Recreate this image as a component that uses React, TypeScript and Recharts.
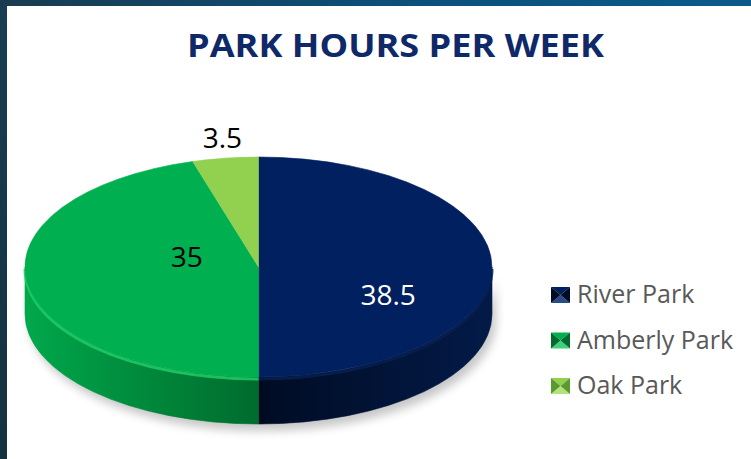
import React from 'react';
import { PieChart, Pie, Cell, Legend } from 'recharts';

// ---- data ----
const parks = ['River Park', 'Amberly Park', 'Oak Park'];
const hours = [38.5, 35, 3.5];
const chartTitle = 'PARK HOURS PER WEEK';

// ---- styles ----
const topColors = ['#002060', '#00b050', '#92d050'];
const sideLight = ['#031a48', '#00a84b', '#7fc045'];
const sideDark = ['#000c24', '#006b2d', '#5c9a30'];
const rimColors = ['#08204f', '#1fcd66', '#a8de72'];
const markerLight = ['#2a4a8a', '#3fd07a', '#b4e27e'];
const labelColors = ['#ffffff', '#000000', '#000000'];

const data = parks.map((name, i) => ({ name, value: hours[i] }));

const W = 751;
const H = 459;
const PIE_CX = 258.5;
const PIE_CY = 267;
const RADIUS = 233.5;
const TILT = 110 / 233.5;
const DEPTH = 47;
const LABEL_RADIUS = [0.555, 0.31, 1];
const LABEL_DY = [28, -14.5, 0];
const LABEL_FONT = 28;

const rad = (a: number) => (a * Math.PI) / 180;
const pt = (cx: number, cy: number, rx: number, ry: number, a: number, dy = 0) =>
  [cx + rx * Math.cos(rad(a)), cy - ry * Math.sin(rad(a)) + dy];

const idxOf = (p: any) => {
  const n = p?.name ?? p?.payload?.name ?? p?.value;
  const i = parks.indexOf(n);
  return i < 0 ? (p?.index ?? 0) : i;
};

const TopFace = (props: any) => {
  const { cx, cy, outerRadius, startAngle, endAngle } = props;
  const i = idxOf(props);
  const rx = outerRadius;
  const ry = outerRadius * TILT;
  const [x1, y1] = pt(cx, cy, rx, ry, startAngle);
  const [x2, y2] = pt(cx, cy, rx, ry, endAngle);
  const large = Math.abs(startAngle - endAngle) > 180 ? 1 : 0;
  const sweep = startAngle > endAngle ? 1 : 0;
  const d = `M${cx},${cy} L${x1},${y1} A${rx},${ry} 0 ${large} ${sweep} ${x2},${y2} Z`;
  return <path d={d} fill={topColors[i]} stroke={topColors[i]} strokeWidth={0.6} />;
};

const frontRanges = (lo: number, hi: number) => {
  const out: [number, number][] = [];
  const fronts: [number, number][] = [[-540, -360], [-180, 0], [180, 360]];
  fronts.forEach(([a, b]) => {
    const s = Math.max(lo, a);
    const e = Math.min(hi, b);
    if (e - s > 0.01) out.push([s, e]);
  });
  return out;
};

const SideWall = (props: any) => {
  const { cx, cy, outerRadius, startAngle, endAngle } = props;
  const i = idxOf(props);
  const rx = outerRadius;
  const ry = outerRadius * TILT;
  const lo = Math.min(startAngle, endAngle);
  const hi = Math.max(startAngle, endAngle);
  const ranges = frontRanges(lo, hi);
  if (!ranges.length) return <g />;
  const gid = `side-grad-${i}`;
  const fid = `side-shadow-${i}`;
  return (
    <g>
      <defs>
        <linearGradient id={gid} gradientUnits="userSpaceOnUse" x1={cx - rx} y1={0} x2={cx + rx} y2={0}>
          <stop offset="0%" stopColor={i === 0 ? sideDark[i] : sideLight[i]} />
          <stop offset="50%" stopColor={sideDark[i]} />
          <stop offset="100%" stopColor={i === 0 ? sideLight[i] : sideDark[i]} />
        </linearGradient>
        <filter id={fid} x="-20%" y="-50%" width="140%" height="200%">
          <feGaussianBlur stdDeviation="5" />
        </filter>
      </defs>
      {ranges.map(([a1, a2], k) => {
        const [x1, y1] = pt(cx, cy, rx, ry, a1);
        const [x2, y2] = pt(cx, cy, rx, ry, a2);
        const [x3, y3] = pt(cx, cy, rx, ry, a2, DEPTH);
        const [x4, y4] = pt(cx, cy, rx, ry, a1, DEPTH);
        const wall = `M${x1},${y1} A${rx},${ry} 0 0 0 ${x2},${y2} L${x3},${y3} A${rx},${ry} 0 0 1 ${x4},${y4} Z`;
        const rim = `M${x1},${y1} A${rx},${ry} 0 0 0 ${x2},${y2}`;
        return (
          <g key={k}>
            <path d={wall} transform="translate(4,7)" fill="#000" opacity={0.22} filter={`url(#${fid})`} />
            <path d={wall} fill={`url(#${gid})`} stroke={`url(#${gid})`} strokeWidth={0.6} />
            <path d={rim} fill="none" stroke={rimColors[i]} strokeWidth={3} opacity={0.85} transform="translate(0,2)" />
          </g>
        );
      })}
    </g>
  );
};

const renderLabel = (props: any) => {
  const { cx, cy, midAngle, outerRadius, percent, value } = props;
  const i = idxOf(props);
  const rx = outerRadius;
  const ry = outerRadius * TILT;
  const c = Math.cos(rad(midAngle));
  const s = Math.sin(rad(midAngle));
  let x: number;
  let y: number;
  if (percent < 0.1) {
    x = cx + rx * c + 20 * c;
    y = cy - ry * s - 20 * s;
  } else {
    const f = LABEL_RADIUS[i];
    x = cx + f * rx * c;
    y = cy - f * ry * s + LABEL_DY[i];
  }
  return (
    <text
      key={`lbl-${i}`}
      x={x}
      y={y + 0.36 * LABEL_FONT}
      textAnchor="middle"
      fill={labelColors[i]}
      fontSize={LABEL_FONT}
      fontFamily="'Open Sans', sans-serif"
    >
      {value}
    </text>
  );
};

const Marker = ({ x, y, i }: { x: number; y: number; i: number }) => {
  const w = 19;
  const h = 16;
  const mx = x + w / 2;
  const my = y + h / 2;
  return (
    <g>
      <polygon points={`${x},${y} ${x + w},${y} ${mx},${my}`} fill={topColors[i]} />
      <polygon points={`${x},${y + h} ${x + w},${y + h} ${mx},${my}`} fill={markerLight[i]} />
      <polygon points={`${x},${y} ${x},${y + h} ${mx},${my}`} fill={sideDark[i]} />
      <polygon points={`${x + w},${y} ${x + w},${y + h} ${mx},${my}`} fill={sideDark[i]} />
    </g>
  );
};

const renderLegend = () => (
  <svg width={206} height={140} style={{ display: 'block' }}>
    {parks.map((name, i) => {
      const base = 33 + i * 45.5;
      return (
        <g key={name}>
          <Marker x={6} y={base - 16} i={i} />
          <text x={32} y={base} fontSize={25} fill="#595959" fontFamily="'Open Sans', sans-serif">
            {name}
          </text>
        </g>
      );
    })}
  </svg>
);

export default function App() {
  return (
    <div style={{ position: 'absolute', left: 0, top: 0, width: W, height: H, background: '#ffffff', overflow: 'hidden' }}>
      <div style={{ position: 'absolute', left: 0, top: 0, width: 7, height: H, background: 'linear-gradient(#183d52, #15323f)' }} />
      <div style={{ position: 'absolute', left: 0, top: 0, width: W, height: 6, background: 'linear-gradient(to right, #193b4f, #0c4f78 50%, #0a5b8c)' }} />
      <svg style={{ position: 'absolute', left: 0, top: 0 }} width={W} height={80}>
        <text
          x={395.5}
          y={57}
          textAnchor="middle"
          fontSize={33}
          fontWeight="bold"
          fill="#0f2968"
          fontFamily="'Open Sans', sans-serif"
          textLength={417}
          lengthAdjust="spacingAndGlyphs"
        >
          {chartTitle}
        </text>
      </svg>
      <div style={{ position: 'absolute', left: 0, top: 0 }}>
        <PieChart width={W} height={H} margin={{ top: 0, right: 0, bottom: 0, left: 0 }}>
          <Pie
            data={data}
            dataKey="value"
            nameKey="name"
            cx={PIE_CX}
            cy={PIE_CY}
            outerRadius={RADIUS}
            startAngle={90}
            endAngle={-270}
            isAnimationActive={false}
            legendType="none"
            stroke="none"
            shape={SideWall}
            inactiveShape={SideWall}
            activeShape={SideWall}
          >
            {data.map((d, i) => (
              <Cell key={d.name} fill={sideDark[i]} />
            ))}
          </Pie>
          <Pie
            data={data}
            dataKey="value"
            nameKey="name"
            cx={PIE_CX}
            cy={PIE_CY}
            outerRadius={RADIUS}
            startAngle={90}
            endAngle={-270}
            isAnimationActive={false}
            stroke="none"
            shape={TopFace}
            inactiveShape={TopFace}
            activeShape={TopFace}
            label={renderLabel}
            labelLine={false}
          >
            {data.map((d, i) => (
              <Cell key={d.name} fill={topColors[i]} />
            ))}
          </Pie>
          <Legend
            layout="vertical"
            align="right"
            verticalAlign="middle"
            content={renderLegend}
            wrapperStyle={{ left: 545, top: 270, width: 206, height: 140, right: 'auto', bottom: 'auto' }}
          />
        </PieChart>
      </div>
    </div>
  );
}
